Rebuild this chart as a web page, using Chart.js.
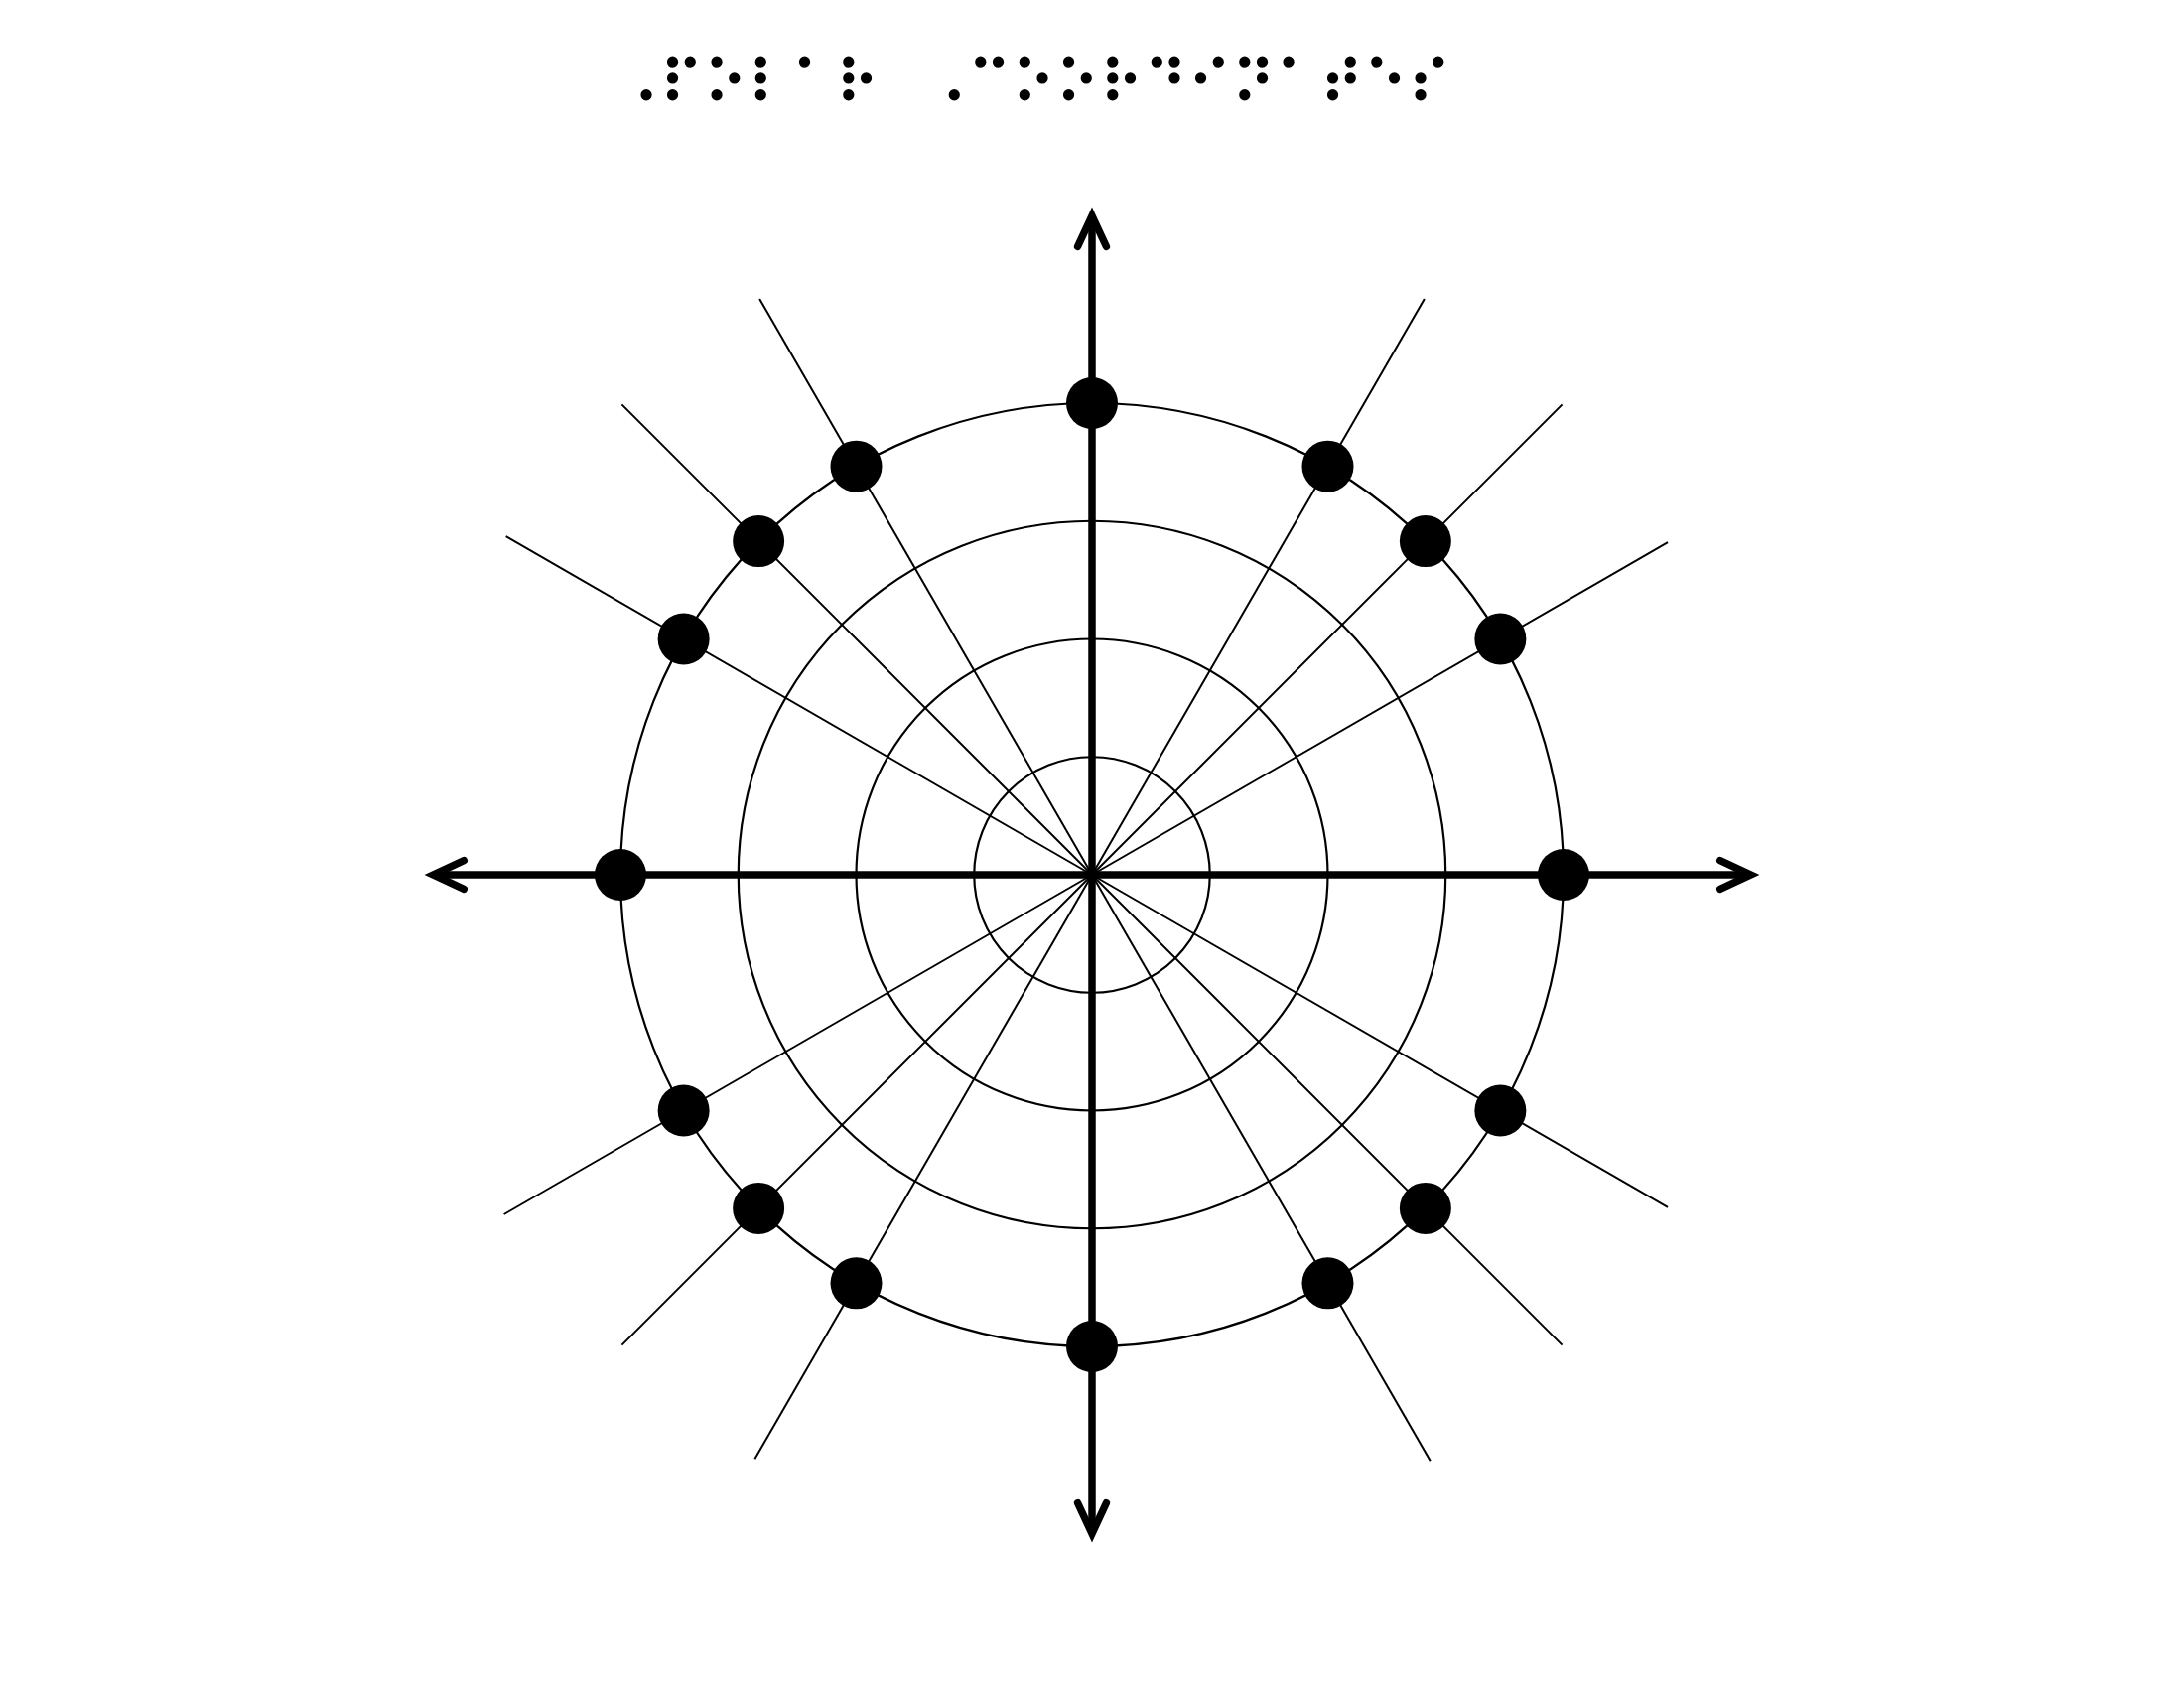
<!DOCTYPE html>
<html>
<head>
<meta charset="utf-8">
<script src="https://cdn.jsdelivr.net/npm/chart.js@4.4.0/dist/chart.umd.min.js"></script>
<style>
  html, body { margin: 0; padding: 0; background: #fff; }
  #wrap { width: 2200px; height: 1700px; position: relative; }
</style>
</head>
<body>
<div id="wrap"><canvas id="polar"></canvas></div>
<script>
  // braille title: "Polar Coordinates"
  const titleText = '⠠⠏⠕⠇⠁⠗⠀⠠⠉⠕⠕⠗⠙⠊⠝⠁⠞⠑⠎';

  // angles (degrees) of the marked points on the unit circle
  const pointAngles = [0, 30, 45, 60, 90, 120, 135, 150, 180, 210, 225, 240, 270, 300, 315, 330];
  const pointR = 1;

  // concentric rings
  const rings = [0.25, 0.5, 0.75, 1];

  // spokes (angle, length in units)
  const spokeAngles = [30, 45, 60, 120, 135, 150, 210, 225, 240, 300, 315, 330];
  const spokeLengths = [1.41, 1.41, 1.41, 1.41, 1.41, 1.435, 1.44, 1.41, 1.43, 1.435, 1.41, 1.41];

  // axes half length (to the arrow tip)
  const axisLength = 1.397;

  const rad = (d) => d * Math.PI / 180;
  const polarPt = (deg, r) => ({ x: r * Math.cos(rad(deg)), y: r * Math.sin(rad(deg)) });

  const spokeSets = spokeAngles.map((a, i) => ({
    data: [{ x: 0, y: 0 }, polarPt(a, spokeLengths[i])],
    showLine: true,
    borderColor: '#000',
    borderWidth: 2,
    pointRadius: 0,
    order: 3
  }));

  const axisSets = [
    [{ x: -axisLength, y: 0 }, { x: axisLength, y: 0 }],
    [{ x: 0, y: -axisLength }, { x: 0, y: axisLength }]
  ].map((d) => ({
    data: d,
    showLine: true,
    borderColor: '#000',
    borderWidth: 7.5,
    pointRadius: 0,
    order: 2
  }));

  const dotSet = {
    data: pointAngles.map((a) => polarPt(a, pointR)),
    showLine: false,
    backgroundColor: '#000',
    borderWidth: 0,
    pointRadius: 26,
    pointHoverRadius: 26,
    order: 1
  };

  const ringsPlugin = {
    id: 'rings',
    beforeDatasetsDraw(chart) {
      const { ctx, scales: { x, y } } = chart;
      const cx = x.getPixelForValue(0);
      const cy = y.getPixelForValue(0);
      ctx.save();
      ctx.strokeStyle = '#000';
      ctx.lineWidth = 2.2;
      rings.forEach((r) => {
        const pr = x.getPixelForValue(r) - cx;
        ctx.beginPath();
        ctx.arc(cx, cy, pr, 0, Math.PI * 2);
        ctx.stroke();
      });
      ctx.restore();
    }
  };

  const arrowPlugin = {
    id: 'arrows',
    afterDatasetsDraw(chart) {
      const { ctx, scales: { x, y } } = chart;
      const arm = 34;
      const spread = rad(25);
      ctx.save();
      ctx.strokeStyle = '#000';
      ctx.lineWidth = 7.5;
      ctx.lineCap = 'round';
      ctx.lineJoin = 'miter';
      [[1, 0], [-1, 0], [0, 1], [0, -1]].forEach(([dx, dy]) => {
        const tx = x.getPixelForValue(dx * axisLength);
        const ty = y.getPixelForValue(dy * axisLength);
        const back = Math.atan2(-(ty - y.getPixelForValue(0)), -(tx - x.getPixelForValue(0)));
        ctx.beginPath();
        ctx.moveTo(tx + arm * Math.cos(back + spread), ty + arm * Math.sin(back + spread));
        ctx.lineTo(tx, ty);
        ctx.lineTo(tx + arm * Math.cos(back - spread), ty + arm * Math.sin(back - spread));
        ctx.stroke();
      });
      ctx.restore();
    }
  };

  const titlePlugin = {
    id: 'brailleTitle',
    afterDraw(chart) {
      const ctx = chart.ctx;
      ctx.save();
      // size the font so one braille cell is ~44px wide, like the reference
      ctx.font = '100px "DejaVu Serif"';
      const w = ctx.measureText('⠿').width;
      const size = 100 * 44.33 / w;
      ctx.font = size + 'px "DejaVu Serif"';
      ctx.fillStyle = '#000';
      ctx.strokeStyle = '#000';
      ctx.lineWidth = 1.5;
      ctx.textAlign = 'left';
      ctx.textBaseline = 'alphabetic';
      ctx.fillText(titleText, 620, 105);
      ctx.strokeText(titleText, 620, 105);
      ctx.restore();
    }
  };

  new Chart(document.getElementById('polar'), {
    type: 'scatter',
    data: { datasets: [dotSet, ...axisSets, ...spokeSets] },
    options: {
      responsive: true,
      maintainAspectRatio: false,
      animation: false,
      devicePixelRatio: 1,
      layout: { autoPadding: false, padding: { top: 62, left: 0, right: 0, bottom: 0 } },
      scales: {
        x: { type: 'linear', min: -2.3158, max: 2.3158, display: false },
        y: { type: 'linear', min: -1.7242, max: 1.7242, display: false }
      },
      plugins: {
        legend: { display: false },
        tooltip: { enabled: false },
        title: { display: false }
      }
    },
    plugins: [ringsPlugin, arrowPlugin, titlePlugin]
  });
</script>
</body>
</html>
